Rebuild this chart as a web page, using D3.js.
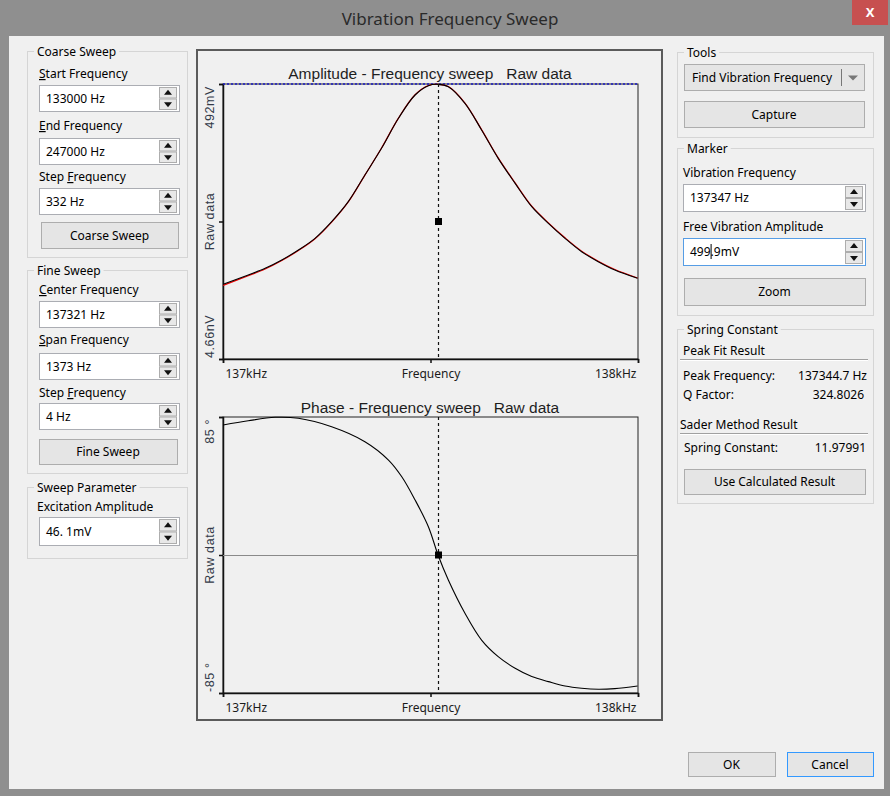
<!DOCTYPE html>
<html>
<head>
<meta charset="utf-8">
<script src="https://cdn.jsdelivr.net/npm/d3@7"></script>
<style>
body { margin: 0; background: #8f8f8f; }
svg text { font-family: "Noto Sans", sans-serif; }
</style>
</head>
<body>
<div id="vis"></div>
<script>
// sweep settings shown in the dialog
const sweepCenter = 137321;
const sweepSpan = 1373;
const markerFreq = 137347;

// amplitude sweep (Hz, mV)
const ampFreq = [136635, 136718, 136774, 136829, 136884, 136939, 136994, 137049, 137104, 137159, 137215, 137270, 137314, 137346, 137380, 137435, 137490, 137545, 137601, 137656, 137711, 137766, 137821, 137876, 137931, 138006];
const ampRaw = [133.6, 150.3, 162.2, 177.1, 195.0, 215.9, 245.7, 281.5, 329.2, 376.9, 430.6, 472.3, 489.0, 491.4, 487.2, 457.4, 409.7, 359.0, 314.3, 272.5, 242.7, 215.9, 192.0, 174.1, 159.2, 144.3];
const ampFit = [131.8, 148.9, 161.0, 176.2, 194.1, 215.2, 245.0, 281.0, 329.0, 377.5, 431.0, 472.8, 489.3, 491.5, 487.4, 457.9, 410.4, 359.8, 315.0, 273.4, 243.6, 216.8, 193.0, 175.0, 160.1, 145.0];

// phase sweep (Hz, degrees)
const phaseFreq = [136635, 136718, 136807, 136884, 136994, 137104, 137182, 137226, 137270, 137314, 137346, 137380, 137435, 137490, 137545, 137601, 137656, 137711, 137766, 137821, 137876, 137931, 138006];
const phaseRaw = [80.1, 82.7, 84.8, 84.2, 79.0, 69.8, 58.5, 48.2, 33.9, 17.4, 0, -15.4, -35.9, -52.4, -62.6, -69.8, -74.9, -78.0, -80.7, -82.1, -82.7, -82.3, -80.7];

// axes
const ampDomain = [0.00000466, 492];
const phaseDomain = [-85, 85];
const xTickLabels = ["137kHz", "Frequency", "138kHz"];
const ampTickLabels = ["4.66nV", "Raw data", "492mV"];
const phaseTickLabels = ["-85 °", "Raw data", "85 °"];

// dialog fields
const coarseLabels = ["Start Frequency", "End Frequency", "Step Frequency"];
const coarseValues = ["133000 Hz", "247000 Hz", "332 Hz"];
const fineLabels = ["Center Frequency", "Span Frequency", "Step Frequency"];
const fineValues = ["137321 Hz", "1373 Hz", "4 Hz"];
const resultLabels = ["Peak Frequency:", "Q Factor:", "Spring Constant:"];
const resultValues = ["137344.7 Hz", "324.8026", "11.97991"];

const svg = d3.select("#vis").append("svg").attr("width", 890).attr("height", 796);

// window frame
svg.append("rect").attr("width", 890).attr("height", 796).attr("fill", "#8f8f8f");
svg.append("rect").attr("x", 9).attr("y", 36).attr("width", 875).attr("height", 753).attr("fill", "#f0f0f0");
svg.append("text").attr("x", 450).attr("y", 25).attr("text-anchor", "middle")
    .attr("font-size", 17).attr("fill", "#2a2a2a").text("Vibration Frequency Sweep");
svg.append("rect").attr("x", 852).attr("y", 0).attr("width", 36).attr("height", 25).attr("fill", "#c75050");
svg.append("text").attr("x", 870).attr("y", 17).attr("text-anchor", "middle")
    .attr("font-size", 13).attr("font-weight", "bold").attr("fill", "#fff").text("X");

function groupBox(x, y, w, h, title){
    svg.append("rect").attr("x", x + .5).attr("y", y + .5).attr("width", w).attr("height", h)
        .attr("fill", "none").attr("stroke", "#d5d5d5");
    let t = svg.append("text").attr("x", x + 10).attr("y", y + 5).attr("font-size", 12).text(title);
    let len = t.node().getComputedTextLength();
    svg.insert("rect", "text:last-child").attr("x", x + 7).attr("y", y - 2).attr("width", len + 6).attr("height", 6).attr("fill", "#f0f0f0");
}

function label(x, y, txt, ul){
    let t = svg.append("text").attr("x", x).attr("y", y).attr("font-size", 12);
    if (ul === undefined) { t.text(txt); return t; }
    t.append("tspan").text(txt.slice(0, ul));
    t.append("tspan").attr("text-decoration", "underline").text(txt[ul]);
    t.append("tspan").text(txt.slice(ul + 1));
    return t;
}

function spin(x, y, w, h){
    [0, 1].forEach(i => {
        let yy = y + i * h / 2;
        svg.append("rect").attr("x", x + .5).attr("y", yy + .5).attr("width", w).attr("height", h / 2 - 1)
            .attr("fill", "#e8e8e8").attr("stroke", "#adadad");
        let cx = x + w / 2 + .5, cy = yy + h / 4;
        let pts = i === 0 ? [[cx - 4, cy + 2], [cx + 4, cy + 2], [cx, cy - 3]] : [[cx - 4, cy - 2], [cx + 4, cy - 2], [cx, cy + 3]];
        svg.append("path").attr("d", d3.line()(pts) + "Z").attr("fill", "#111");
    });
}

function input(x, y, w, h, txt, focus){
    svg.append("rect").attr("x", x + .5).attr("y", y + .5).attr("width", w).attr("height", h)
        .attr("fill", "#fff").attr("stroke", focus ? "#569de5" : "#abadb3");
    let t = svg.append("text").attr("x", x + 7).attr("y", y + h / 2 + 4.5).attr("font-size", 12).text(txt);
    spin(x + w - 20, y + 2, 17, h - 3);
    return t;
}

function button(x, y, w, h, txt, focus){
    svg.append("rect").attr("x", x + .5).attr("y", y + .5).attr("width", w).attr("height", h)
        .attr("fill", "#e5e5e5").attr("stroke", focus ? "#3399ff" : "#adadad");
    svg.append("text").attr("x", x + w / 2).attr("y", y + h / 2 + 4.5).attr("text-anchor", "middle")
        .attr("font-size", 12).text(txt);
}

// left column
groupBox(27, 51, 160, 206, "Coarse Sweep");
let rowsC = [78, 130, 181], boxC = [85, 138, 188];
coarseLabels.forEach((l, i) => {
    label(39, rowsC[i], l, i === 2 ? 5 : 0);
    input(39, boxC[i], 140, 26, coarseValues[i]);
});
button(41, 222, 137, 26, "Coarse Sweep");

groupBox(27, 270, 160, 203, "Fine Sweep");
let rowsF = [294, 344, 397], boxF = [301, 353, 403];
fineLabels.forEach((l, i) => {
    label(39, rowsF[i], l, i === 2 ? 5 : 0);
    input(39, boxF[i], 140, 26, fineValues[i]);
});
button(39, 439, 138, 25, "Fine Sweep");

groupBox(27, 487, 160, 71, "Sweep Parameter");
label(37, 511, "Excitation Amplitude");
input(39, 517, 140, 28, "46. 1mV");

// right column
groupBox(677, 52, 196, 85, "Tools");
svg.append("rect").attr("x", 684.5).attr("y", 64.5).attr("width", 180).attr("height", 26).attr("fill", "#e5e5e5").attr("stroke", "#adadad");
label(692, 82, "Find Vibration Frequency");
svg.append("line").attr("x1", 841.5).attr("x2", 841.5).attr("y1", 69).attr("y2", 86).attr("stroke", "#777");
svg.append("path").attr("d", "M848,75.5L858,75.5L853,80.5Z").attr("fill", "#777");
button(684, 101, 180, 26, "Capture");

groupBox(677, 148, 196, 167, "Marker");
label(683, 177, "Vibration Frequency");
input(683, 184, 182, 27, "137347 Hz");
label(683, 231, "Free Vibration Amplitude");
let amp = input(683, 238, 182, 27, "499.9mV", true);
let caret = amp.attr("x") * 1 + amp.node().getSubStringLength(0, 3);
svg.append("line").attr("x1", caret + .5).attr("x2", caret + .5).attr("y1", 244).attr("y2", 259).attr("stroke", "#000");
button(684, 278, 181, 27, "Zoom");

groupBox(677, 329, 196, 174, "Spring Constant");
label(683, 355, "Peak Fit Result");
label(680, 429, "Sader Method Result");
[359.5, 433.5].forEach(y => {
    svg.append("line").attr("x1", 680).attr("x2", 868).attr("y1", y).attr("y2", y).attr("stroke", "#a0a0a0");
    svg.append("line").attr("x1", 680).attr("x2", 868).attr("y1", y + 1).attr("y2", y + 1).attr("stroke", "#fff");
});
let resRows = [380, 399, 452], resX = [683, 683, 684], resEnd = [867, 864, 866];
resultLabels.forEach((l, i) => {
    label(resX[i], resRows[i], l);
    label(resEnd[i], resRows[i], resultValues[i]).attr("text-anchor", "end");
});
button(684, 469, 181, 25, "Use Calculated Result");

button(688, 752, 87, 24, "OK");
button(787, 752, 86, 24, "Cancel", true);

// chart panel
svg.append("rect").attr("x", 197).attr("y", 50).attr("width", 465).attr("height", 670)
    .attr("fill", "#f0f0f0").attr("stroke", "#5b5b5b").attr("stroke-width", 2);

const x = d3.scaleLinear()
    .domain([sweepCenter - sweepSpan / 2, sweepCenter + sweepSpan / 2])
    .range([223, 638]);

function plot(cfg){
    let g = svg.append("g");
    let y = d3.scaleLinear().domain(cfg.domain).range([cfg.bottom, cfg.top]);
    let mid = (cfg.domain[0] + cfg.domain[1]) / 2;

    g.append("text").attr("x", 430).attr("y", cfg.titleY).attr("text-anchor", "middle")
        .style("white-space", "pre").style("font-family", "'Liberation Sans', Arial, sans-serif")
        .attr("font-size", 15.5).attr("fill", "#1e1e1e").text(cfg.title);

    g.append("rect").attr("x", 223).attr("y", cfg.top).attr("width", 415).attr("height", cfg.bottom - cfg.top)
        .attr("fill", "none").attr("stroke", "#222");

    let xAxis = d3.axisBottom(x).tickValues([x.domain()[0], sweepCenter, x.domain()[1]])
        .tickSize(4).tickPadding(6).tickFormat((d, i) => xTickLabels[i]);
    g.append("g").attr("transform", `translate(0,${cfg.bottom})`).call(xAxis)
        .call(a => a.selectAll("path,line").attr("stroke", "#111").attr("stroke-width", 1.5))
        .call(a => a.selectAll("text").attr("font-size", 12).attr("fill", "#1b1b1b")
            .style("font-family", "'Noto Sans', sans-serif")
            .attr("text-anchor", (d, i) => ["start", "middle", "end"][i])
            .attr("dx", (d, i) => [2, 0, -2][i]));

    let yAxis = d3.axisLeft(y).tickValues([cfg.domain[0], mid, cfg.domain[1]]).tickSize(4).tickFormat("");
    g.append("g").attr("transform", "translate(223,0)").call(yAxis)
        .call(a => a.selectAll("path,line").attr("stroke", "#111").attr("stroke-width", 1.5));

    let pos = [cfg.bottom - 1, y(mid), cfg.top + 2];
    g.selectAll(".ylab").data(cfg.labels).join("text").attr("class", "ylab")
        .attr("transform", (d, i) => `translate(214,${pos[i]}) rotate(-90)`)
        .attr("text-anchor", (d, i) => ["start", "middle", "end"][i])
        .style("font-family", "'Liberation Sans', Arial, sans-serif").style("white-space", "pre")
        .attr("font-size", 12.5).attr("letter-spacing", 0.6).attr("fill", "#333a48").text(d => d);

    return {g, y, mid};
}

// amplitude plot
let pa = plot({domain: ampDomain, top: 84, bottom: 359, titleY: 79,
    title: "Amplitude - Frequency sweep   Raw data", labels: ampTickLabels});
pa.g.append("line").attr("x1", 223).attr("x2", 638).attr("y1", pa.y(ampDomain[1])).attr("y2", pa.y(ampDomain[1]))
    .attr("stroke", "#1a1ac8").attr("stroke-width", 1.5).attr("stroke-dasharray", "2,2");
let lineA = d3.line().x(d => x(d[0])).y(d => pa.y(d[1])).curve(d3.curveCatmullRom.alpha(0.5));
pa.g.append("path").attr("d", lineA(d3.zip(ampFreq, ampFit))).attr("fill", "none").attr("stroke", "#ee0000").attr("stroke-width", 1.2);
pa.g.append("path").attr("d", lineA(d3.zip(ampFreq, ampRaw))).attr("fill", "none").attr("stroke", "#000").attr("stroke-width", 1.1);

// phase plot
let pp = plot({domain: phaseDomain, top: 417, bottom: 693, titleY: 413,
    title: "Phase - Frequency sweep   Raw data", labels: phaseTickLabels});
pp.g.append("line").attr("x1", 223).attr("x2", 638).attr("y1", pp.y(0) + .5).attr("y2", pp.y(0) + .5)
    .attr("stroke", "#8a8a8a");
let lineP = d3.line().x(d => x(d[0])).y(d => pp.y(d[1])).curve(d3.curveCatmullRom.alpha(0.5));
pp.g.append("path").attr("d", lineP(d3.zip(phaseFreq, phaseRaw))).attr("fill", "none").attr("stroke", "#000").attr("stroke-width", 1.1);

// marker cursor on both plots
[[pa, 84, 359], [pp, 417, 693]].forEach(([p, top, bottom]) => {
    let mx = Math.round(x(markerFreq)) + .5;
    p.g.append("line").attr("x1", mx).attr("x2", mx).attr("y1", top).attr("y2", bottom)
        .attr("stroke", "#111").attr("stroke-width", 1.2).attr("stroke-dasharray", "3,3");
    p.g.append("rect").attr("x", mx - 3.5).attr("y", p.y(p.mid) - 3.5).attr("width", 7).attr("height", 7).attr("fill", "#000");
});
</script>
</body>
</html>
